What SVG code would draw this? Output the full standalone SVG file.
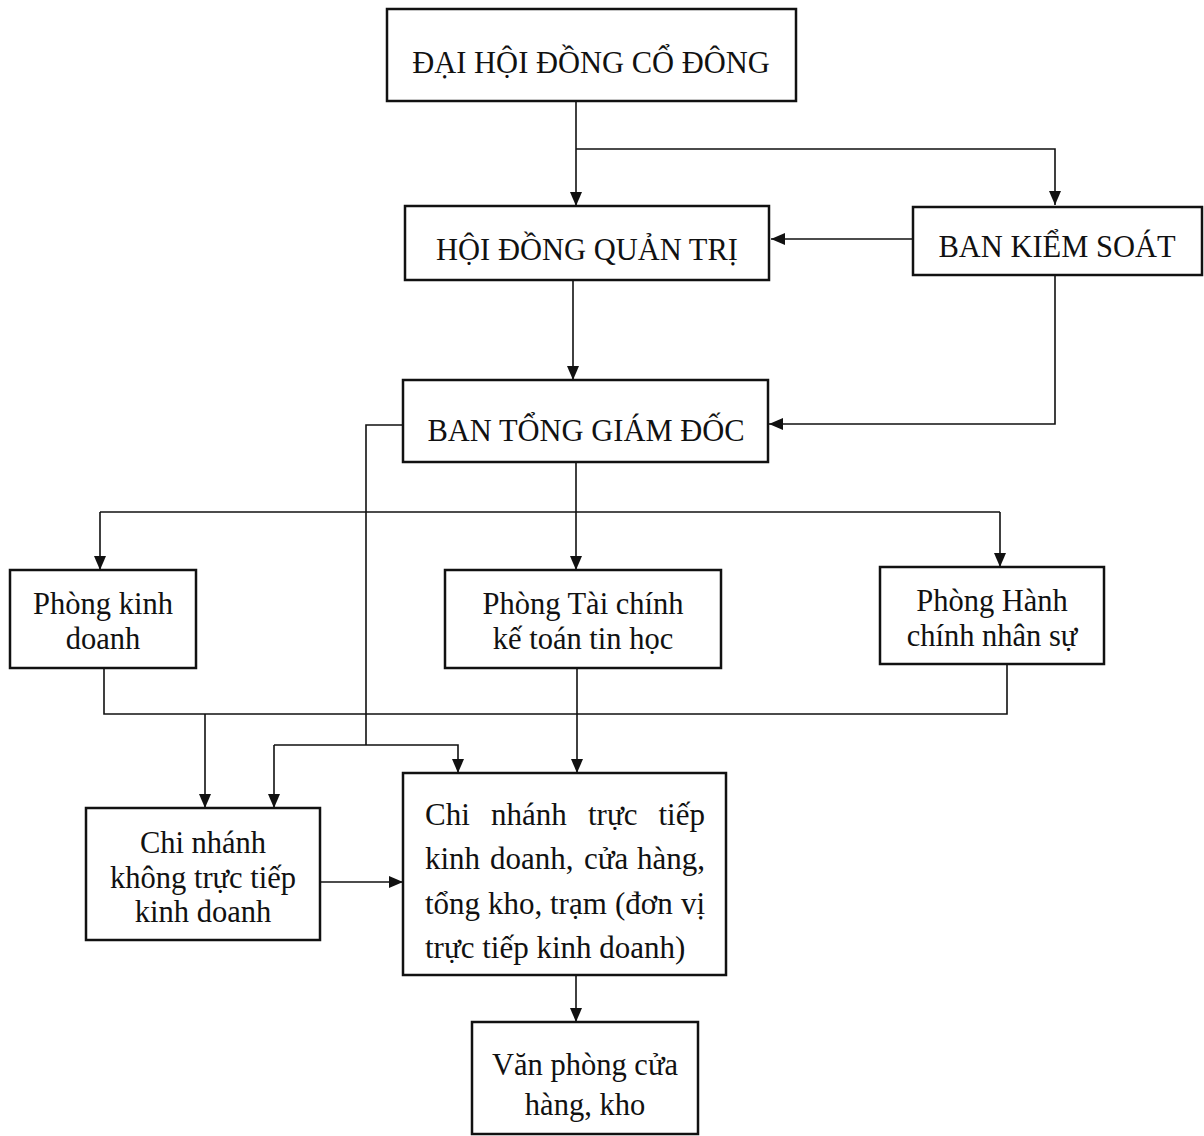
<svg xmlns="http://www.w3.org/2000/svg" width="1204" height="1136" viewBox="0 0 1204 1136">
<defs>
<marker id="arr" viewBox="0 0 14 12" refX="14" refY="6" markerWidth="14" markerHeight="12" markerUnits="userSpaceOnUse" orient="auto">
<path d="M0,0 L14,6 L0,12 Z" fill="#111"/>
</marker>
<style>
.box{fill:#fff;stroke:#111;stroke-width:2.5}
.t{font-family:"Liberation Serif","Times New Roman",serif;font-size:30.5px;fill:#111;text-anchor:middle}
.s{font-family:"Liberation Serif","Times New Roman",serif;font-size:31px;fill:#111}
.e{text-anchor:end}
.c{fill:none;stroke:#111;stroke-width:1.6}
.a{fill:none;stroke:#111;stroke-width:1.6;marker-end:url(#arr)}
</style>
</defs>
<rect width="1204" height="1136" fill="#fff"/>
<g id="connectors">
<path class="a" d="M576,101 V206"/>
<path class="a" d="M576,149 H1055 V205"/>
<path class="a" d="M913,239 H771"/>
<path class="a" d="M573,280 V380"/>
<path class="a" d="M1055,275 V424 H769"/>
<path class="a" d="M576,462 V570"/>
<path class="c" d="M100,512 H1000"/>
<path class="a" d="M100,512 V570"/>
<path class="a" d="M1000,512 V567"/>
<path class="c" d="M403,425 H366 V745"/>
<path class="a" d="M274,745 V808"/>
<path class="a" d="M274,745 H458 V773"/>
<path class="c" d="M104,668 V714 H1007 V664"/>
<path class="a" d="M205,714 V808"/>
<path class="a" d="M577,668 V773"/>
<path class="a" d="M320,882 H403"/>
<path class="a" d="M576,975 V1022"/>
</g>
<g id="n1"><rect class="box" x="387" y="9" width="409" height="92"/><text class="t" x="591" y="73">ĐẠI HỘI ĐỒNG CỔ ĐÔNG</text></g>
<g id="n2"><rect class="box" x="405" y="206" width="364" height="74"/><text class="t" x="587" y="260">HỘI ĐỒNG QUẢN TRỊ</text></g>
<g id="n3"><rect class="box" x="913" y="207" width="289" height="68"/><text class="t" x="1057" y="257">BAN KIỂM SOÁT</text></g>
<g id="n4"><rect class="box" x="403" y="380" width="365" height="82"/><text class="t" x="586" y="441">BAN TỔNG GIÁM ĐỐC</text></g>
<g id="n5"><rect class="box" x="10" y="570" width="186" height="98"/><text class="t" x="103" y="614">Phòng kinh</text><text class="t" x="103" y="649">doanh</text></g>
<g id="n6"><rect class="box" x="445" y="570" width="276" height="98"/><text class="t" x="583" y="614">Phòng Tài chính</text><text class="t" x="583" y="649">kế toán tin học</text></g>
<g id="n7"><rect class="box" x="880" y="567" width="224" height="97"/><text class="t" x="992" y="611">Phòng Hành</text><text class="t" x="992" y="646">chính nhân sự</text></g>
<g id="n8"><rect class="box" x="86" y="808" width="234" height="132"/><text class="t" x="203" y="853">Chi nhánh</text><text class="t" x="203" y="888">không trực tiếp</text><text class="t" x="203" y="922">kinh doanh</text></g>
<g id="n9"><rect class="box" x="403" y="773" width="323" height="202"/>
<text class="s" y="825"><tspan x="425">Chi</tspan><tspan x="491">nhánh</tspan><tspan x="588">trực</tspan></text><text class="s e" x="705" y="825">tiếp</text>
<text class="s" y="869"><tspan x="425">kinh</tspan><tspan x="490">doanh,</tspan><tspan x="584">cửa</tspan></text><text class="s e" x="705" y="869">hàng,</text>
<text class="s" y="914"><tspan x="425">tổng</tspan><tspan x="488">kho,</tspan><tspan x="550">trạm</tspan><tspan x="615">(đơn</tspan></text><text class="s e" x="705" y="914">vị</text>
<text class="s" x="425" y="958">trực tiếp kinh doanh)</text></g>
<g id="n10"><rect class="box" x="472" y="1022" width="226" height="112"/><text class="t" x="585" y="1075">Văn phòng cửa</text><text class="t" x="585" y="1115">hàng, kho</text></g>
</svg>
